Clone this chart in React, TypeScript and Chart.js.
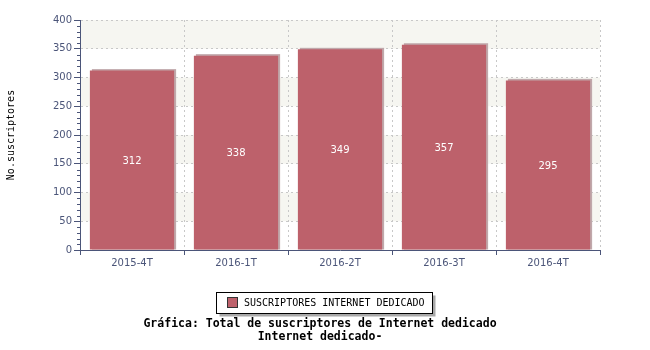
import React, { useEffect, useRef } from "react";
import { Chart, registerables } from "chart.js";

Chart.register(...registerables);

const categories = ["2015-4T", "2016-1T", "2016-2T", "2016-3T", "2016-4T"];
const suscriptores = [312, 338, 349, 357, 295];
const seriesName = "SUSCRIPTORES INTERNET DEDICADO";
const yAxisTitle = "No.suscriptores";
const titleLines = ["Gráfica: Total de suscriptores de Internet dedicado", "Internet dedicado-"];
const yMax = 400;
const yStep = 50;
const yMinorStep = 10;

const BAR = "#bd616b";
const AXIS = "#4b5579";
const GRID = "#c8c8c8";
const BAND = "#f6f6f1";

const customPlugin = {
  id: "custom",
  beforeDraw(chart: any) {
    const { ctx, chartArea } = chart;
    const y = chart.scales.y;
    ctx.save();
    ctx.fillStyle = "#ffffff";
    ctx.fillRect(0, 0, chart.width, chart.height);
    ctx.fillStyle = BAND;
    for (let v = yMax; v > 0; v -= yStep * 2) {
      const top = y.getPixelForValue(v);
      const bot = y.getPixelForValue(v - yStep);
      ctx.fillRect(chartArea.left, top, chartArea.right - chartArea.left, bot - top);
    }
    ctx.restore();
  },
  beforeDatasetsDraw(chart: any) {
    const { ctx } = chart;
    const meta = chart.getDatasetMeta(0);
    ctx.save();
    ctx.fillStyle = "#c0a8ab";
    meta.data.forEach((bar: any) => {
      const w = bar.width;
      const left = bar.x - w / 2;
      ctx.fillRect(left + 2, bar.y - 1.5, w, bar.base - bar.y + 1.5);
    });
    ctx.restore();
  },
  afterDatasetsDraw(chart: any) {
    const { ctx } = chart;
    const meta = chart.getDatasetMeta(0);
    ctx.save();
    ctx.fillStyle = "#ffffff";
    ctx.font = "10px 'DejaVu Sans'";
    ctx.textAlign = "center";
    ctx.textBaseline = "middle";
    meta.data.forEach((bar: any, i: number) => {
      ctx.fillText(String(suscriptores[i]), bar.x, (bar.y + bar.base) / 2 + 1);
    });
    ctx.restore();
  },
  afterDraw(chart: any) {
    const { ctx, chartArea } = chart;
    const y = chart.scales.y;
    ctx.save();
    // minor ticks
    ctx.strokeStyle = AXIS;
    ctx.lineWidth = 1;
    ctx.beginPath();
    for (let v = 0; v <= yMax; v += yMinorStep) {
      if (v % yStep === 0) continue;
      const py = Math.round(y.getPixelForValue(v)) + 0.5;
      ctx.moveTo(chartArea.left - 3, py);
      ctx.lineTo(chartArea.left, py);
    }
    ctx.stroke();

    // y axis title
    ctx.save();
    ctx.translate(11, (chartArea.top + chartArea.bottom) / 2);
    ctx.rotate(-Math.PI / 2);
    ctx.fillStyle = "#000";
    ctx.font = "10px 'DejaVu Sans Mono'";
    ctx.textAlign = "center";
    ctx.textBaseline = "middle";
    ctx.fillText(yAxisTitle, 0, 0);
    ctx.restore();

    // legend
    const lx = 216.5, ly = 292.5, lw = 216, lh = 21;
    ctx.fillStyle = "#a8a8a8";
    ctx.fillRect(lx + 3, ly + 3, lw, lh);
    ctx.fillStyle = "#fff";
    ctx.fillRect(lx, ly, lw, lh);
    ctx.strokeStyle = "#000";
    ctx.strokeRect(lx, ly, lw, lh);
    ctx.fillStyle = BAR;
    ctx.fillRect(227, 297, 11, 11);
    ctx.strokeStyle = "#333";
    ctx.strokeRect(227.5, 297.5, 10, 10);
    ctx.fillStyle = "#000";
    ctx.font = "10px 'DejaVu Sans Mono'";
    ctx.textAlign = "left";
    ctx.textBaseline = "middle";
    ctx.fillText(seriesName, 244, 303);

    // title
    ctx.font = "bold 11.5px 'DejaVu Sans Mono'";
    ctx.textAlign = "center";
    ctx.textBaseline = "middle";
    ctx.fillText(titleLines[0], 320, 324);
    ctx.fillText(titleLines[1], 320, 337);
    ctx.restore();
  },
};

export default function App() {
  const ref = useRef<HTMLCanvasElement>(null);
  useEffect(() => {
    if (!ref.current) return;
    const chart = new Chart(ref.current, {
      type: "bar",
      data: {
        labels: categories,
        datasets: [
          {
            label: seriesName,
            data: suscriptores,
            backgroundColor: BAR,
            borderWidth: 0,
            categoryPercentage: 1,
            barPercentage: 0.81,
          },
        ],
      },
      options: {
        responsive: false,
        animation: false,
        devicePixelRatio: 1,
        layout: { padding: { left: 0, top: 20, right: 50, bottom: 0 } },
        plugins: { legend: { display: false }, title: { display: false }, tooltip: { enabled: false } },
        scales: {
          x: {
            offset: true,
            grid: {
              offset: true,
              color: GRID,
              tickColor: AXIS,
              tickLength: 5,
            },
            border: { color: AXIS, dash: [2, 3] },
            ticks: { color: AXIS, font: { family: "'DejaVu Sans'", size: 10 }, padding: 2, maxRotation: 0 },
            afterFit: (s: any) => { s.height = 100; },
          },
          y: {
            min: 0,
            max: yMax,
            ticks: { stepSize: yStep, color: AXIS, font: { family: "'DejaVu Sans'", size: 10 }, padding: 2 },
            grid: { color: GRID, tickColor: AXIS, tickLength: 6 },
            border: { color: AXIS, dash: [2, 3] },
            afterFit: (s: any) => { s.width = 80; },
          },
        },
      },
      plugins: [customPlugin],
    });
    return () => chart.destroy();
  }, []);
  return (
    <div style={{ position: "fixed", left: 0, top: 0, width: 650, height: 350 }}>
      <canvas ref={ref} width={650} height={350} style={{ width: 650, height: 350 }} />
    </div>
  );
}
